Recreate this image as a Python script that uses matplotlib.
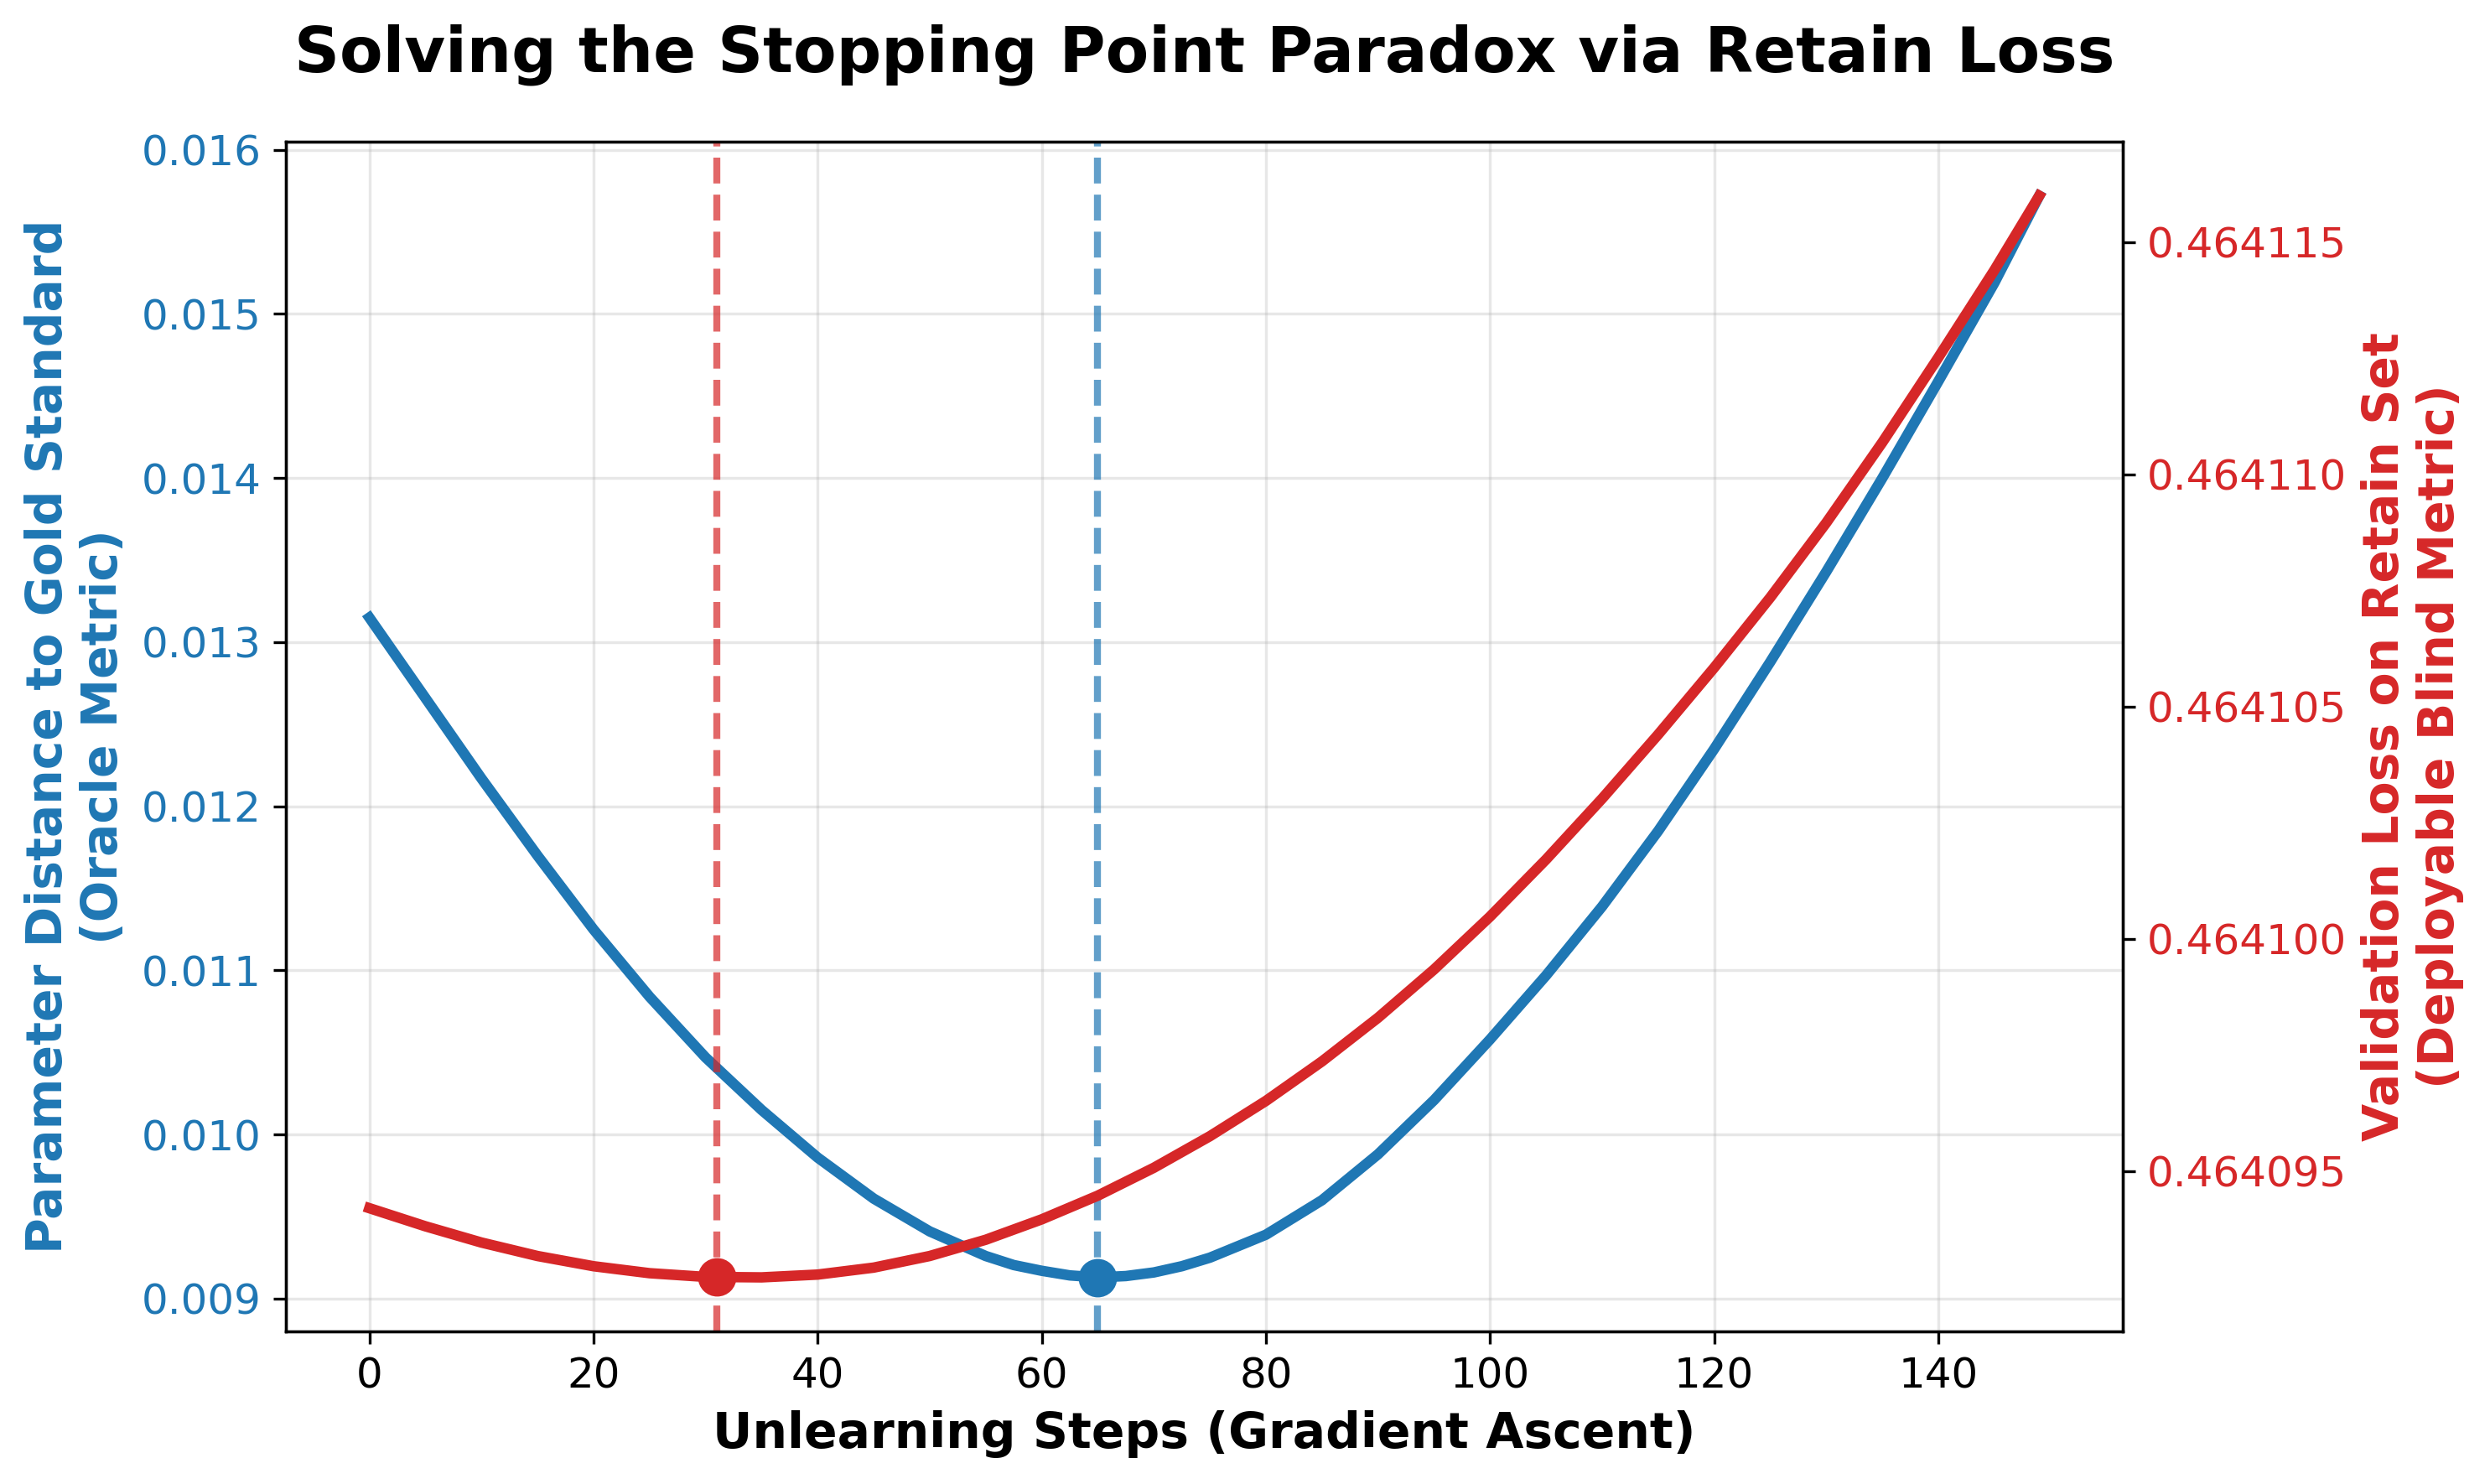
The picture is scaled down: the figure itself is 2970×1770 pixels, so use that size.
import matplotlib
matplotlib.use("Agg")
import matplotlib.pyplot as plt
from matplotlib.ticker import ScalarFormatter

# values (every 5 steps, last step is 149)
steps = [0, 5, 10, 15, 20, 25, 30, 35, 40, 45, 50, 55, 60, 65, 70, 75,
         80, 85, 90, 95, 100, 105, 110, 115, 120, 125, 130, 135, 140, 145, 149]

gold_distance = [0.013150, 0.012660, 0.012170, 0.011700, 0.011250, 0.010840,
                 0.010470, 0.010150, 0.009860, 0.009610, 0.009410, 0.009260,
                 0.009170, 0.009130, 0.009160, 0.009250, 0.009390, 0.009600,
                 0.009880, 0.010210, 0.010580, 0.010970, 0.011390, 0.011850,
                 0.012350, 0.012880, 0.013430, 0.014000, 0.014590, 0.015190,
                 0.015720]

# extra readings of the distance curve around its minimum
extra_steps = [57.5, 62.5, 67.5, 72.5]
extra_distance = [0.009205, 0.009142, 0.009138, 0.009198]

retain_loss = [0.46409420, 0.46409381, 0.46409346, 0.46409317, 0.46409295,
               0.46409280, 0.46409272, 0.46409271, 0.46409277, 0.46409292,
               0.46409317, 0.46409352, 0.46409396, 0.46409447, 0.46409507,
               0.46409575, 0.46409651, 0.46409736, 0.46409830, 0.46409934,
               0.46410048, 0.46410171, 0.46410302, 0.46410440, 0.46410584,
               0.46410735, 0.46410896, 0.46411069, 0.46411252, 0.46411440,
               0.46411600]

oracle_stop = (65, 0.009130)
retain_stop = (31, 0.46409272)

BLUE = '#1f77b4'
RED = '#d62728'

# merge the extra readings into the distance series, in step order
dist_pts = sorted(zip(steps + extra_steps, gold_distance + extra_distance))
dist_x = [p[0] for p in dist_pts]
dist_y = [p[1] for p in dist_pts]

fig, ax1 = plt.subplots(figsize=(9.9, 5.9), dpi=300)
fig.subplots_adjust(left=0.1148, right=0.8525, top=0.9045, bottom=0.1028)

ax1.plot(dist_x, dist_y, color=BLUE, lw=3)
ax1.plot(*oracle_stop, 'o', color=BLUE, ms=10, zorder=5)
ax1.axvline(oracle_stop[0], color=BLUE, ls='--', lw=2, alpha=0.7)
ax1.set_xlabel('Unlearning Steps (Gradient Ascent)', fontsize=14, fontweight='bold')
ax1.set_ylabel('Parameter Distance to Gold Standard\n(Oracle Metric)',
               fontsize=14, fontweight='bold', color=BLUE)
ax1.tick_params(axis='y', labelcolor=BLUE, labelsize=12)
ax1.tick_params(axis='x', labelsize=12)
ax1.grid(True, alpha=0.3)

ax2 = ax1.twinx()
ax2.plot(steps, retain_loss, color=RED, lw=3)
ax2.plot(*retain_stop, 'o', color=RED, ms=10, zorder=5)
ax2.axvline(retain_stop[0], color=RED, ls='--', lw=2, alpha=0.7)
ax2.set_ylabel('Validation Loss on Retain Set\n(Deployable Blind Metric)',
               fontsize=14, fontweight='bold', color=RED)
ax2.tick_params(axis='y', labelcolor=RED, labelsize=12)
fmt = ScalarFormatter(useOffset=False)
ax2.yaxis.set_major_formatter(fmt)

ax1.set_title('Solving the Stopping Point Paradox via Retain Loss',
              fontsize=18, fontweight='bold', pad=20)

fig.savefig('out.png', dpi=300)
